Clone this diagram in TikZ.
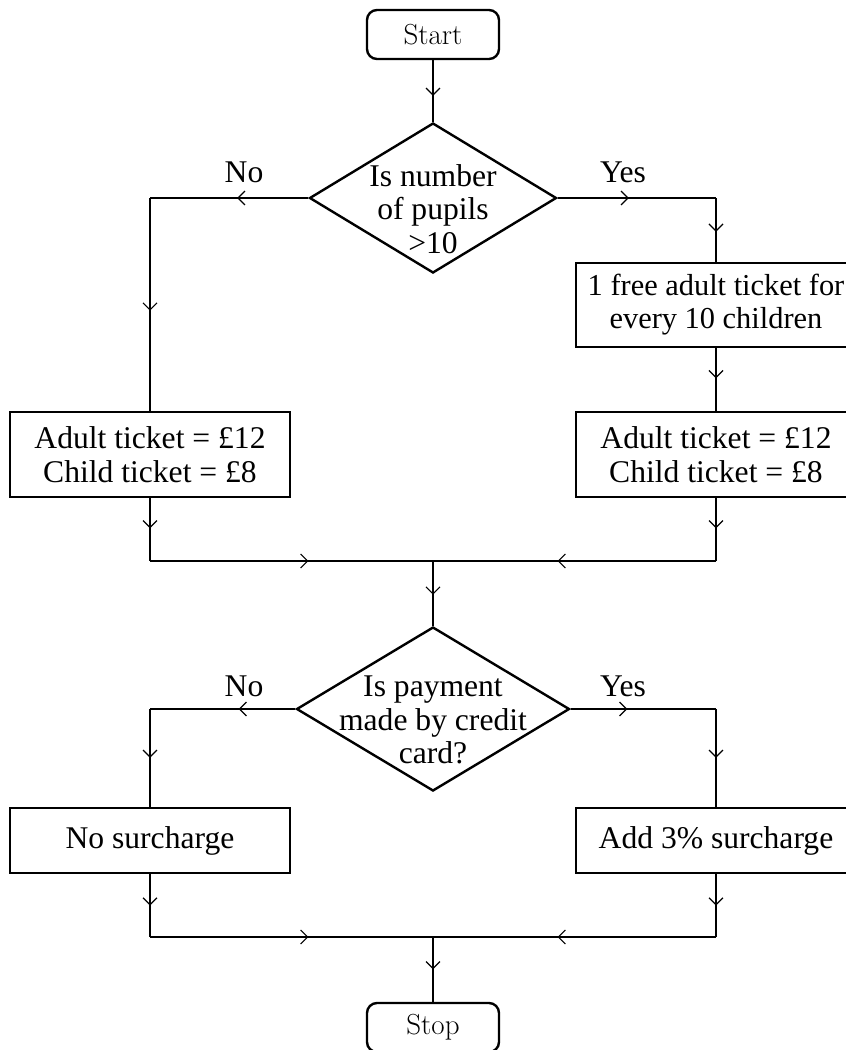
\documentclass[tikz,border=0pt]{standalone}
\usepackage{fontspec}
\setmainfont{Liberation Serif}
\newfontfamily\lmfont{Latin Modern Roman}
\usetikzlibrary{shapes.geometric,arrows.meta,decorations.markings}
\begin{document}
\begin{tikzpicture}[x=0.5pt,y=-0.5pt,
  every node/.style={font=\fontsize{15.8}{16.8}\selectfont, text=black},
  term/.style={draw, line width=1.2pt, rounded corners=5pt, minimum width=66pt, minimum height=24.5pt, inner sep=0pt, font=\lmfont\fontsize{14.5}{16}\selectfont},
  proc/.style={draw, line width=1.3pt, minimum width=140pt, inner sep=0pt, align=center},
  dec/.style={draw, shape=diamond, line width=1.2pt, inner sep=0pt},
  dectext/.style={align=center, inner sep=0pt},
  lbl/.style={inner sep=0pt, anchor=base},
  flow/.style={line width=0.6pt, postaction={decorate},
    decoration={markings, mark=at position #1 with {\arrow{Straight Barb[length=3.5pt,width=7pt,line width=0.6pt]}}}},
  flow/.default=0.55
]
\useasboundingbox (0,0) rectangle (846,1050);
\clip (0,0) rectangle (846,1050);

% nodes
\node[term] (start) at (433,34.5) {Start};
\node[dec, minimum width=123.5pt, minimum height=75pt] (d1) at (433,198) {};
\node[dectext] (d1t) at (433,209) {Is number\\of pupils\\>10};
\node[proc, minimum height=42.5pt] (L1) at (150,454.5) {Adult ticket = £12\\Child ticket = £8};
\node[proc, minimum height=42pt, font=\fontsize{15.2}{16.5}\selectfont] (R0) at (716,305) {1 free adult ticket for\\every 10 children};
\node[proc, minimum height=42.5pt] (R1) at (716,454.5) {Adult ticket = £12\\Child ticket = £8};
\node[dec, minimum width=136.5pt, minimum height=82pt] (d2) at (433,709) {};
\node[dectext] (d2t) at (433,720) {Is payment\\made by credit\\card?};
\node[proc, minimum height=32.5pt] (L2) at (150,840.5) {No surcharge};
\node[proc, minimum height=32.5pt] (R2) at (716,840.5) {Add 3\% surcharge};
\node[term] (stop) at (433,1027.5) {Stop};

% labels
\node[lbl] (no1) at (244,182) {No};
\node[lbl] (yes1) at (623,182) {Yes};
\node[lbl] (no2) at (244,696) {No};
\node[lbl] (yes2) at (623,696) {Yes};

% corner coordinates
\coordinate (cL0) at (150,198);
\coordinate (cR0) at (716,198);
\coordinate (cL1) at (150,561);
\coordinate (cR1) at (716,561);
\coordinate (m1) at (433,561);
\coordinate (cL2) at (150,709);
\coordinate (cR2) at (716,709);
\coordinate (cL3) at (150,937);
\coordinate (cR3) at (716,937);
\coordinate (m2) at (433,937);

% connectors
\draw[flow=0.58] (start.south) -- (d1.north);
\draw[flow=0.45] (d1.west) -- (cL0);
\draw[flow=0.53] (cL0) -- (L1.north);
\draw[flow=0.45] (d1.east) -- (cR0);
\draw[flow=0.53] (cR0) -- (R0.north);
\draw[flow=0.48] (R0.south) -- (R1.north);
\draw[flow=0.48] (L1.south) -- (cL1);
\draw[flow=0.48] (R1.south) -- (cR1);
\draw[flow=0.56] (cL1) -- (m1);
\draw[flow=0.56] (cR1) -- (m1);
\draw[flow=0.52] (m1) -- (d2.north);
\draw[flow=0.39] (d2.west) -- (cL2);
\draw[flow=0.5] (cL2) -- (L2.north);
\draw[flow=0.39] (d2.east) -- (cR2);
\draw[flow=0.5] (cR2) -- (R2.north);
\draw[flow=0.5] (L2.south) -- (cL3);
\draw[flow=0.5] (R2.south) -- (cR3);
\draw[flow=0.56] (cL3) -- (m2);
\draw[flow=0.56] (cR3) -- (m2);
\draw[flow=0.5] (m2) -- (stop.north);
\end{tikzpicture}
\end{document}
